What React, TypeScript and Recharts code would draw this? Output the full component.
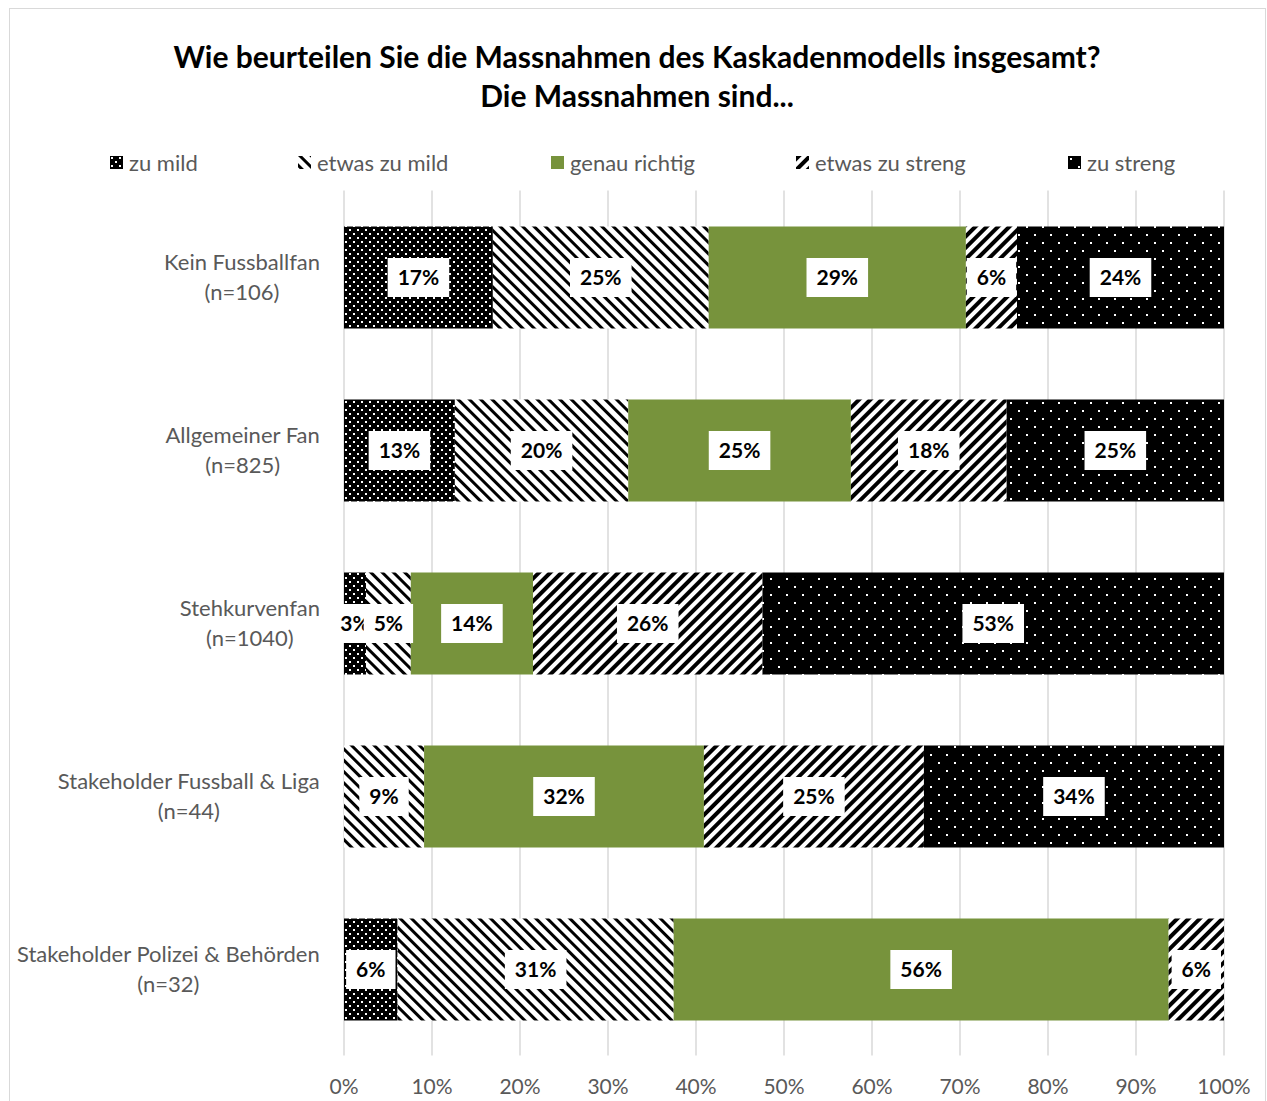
import React from 'react';
import { BarChart, Bar, XAxis, YAxis, CartesianGrid, LabelList } from 'recharts';

const groups = ['Kein Fussballfan', 'Allgemeiner Fan', 'Stehkurvenfan', 'Stakeholder Fussball & Liga', 'Stakeholder Polizei & Behörden'];
const sampleSizes = ['(n=106)', '(n=825)', '(n=1040)', '(n=44)', '(n=32)'];

const zuMild = [16.9, 12.6, 2.5, 0, 6.1];
const etwasZuMild = [24.5, 19.7, 5.1, 9.1, 31.4];
const genauRichtig = [29.2, 25.3, 13.9, 31.8, 56.3];
const etwasZuStreng = [5.8, 17.7, 26.1, 25.0, 6.3];
const zuStreng = [23.5, 24.7, 52.5, 34.1, 0];

const xTicks = [0, 0.1, 0.2, 0.3, 0.4, 0.5, 0.6, 0.7, 0.8, 0.9, 1];

const FONT = 'Lato, "Open Sans", sans-serif';
const GREY = '#595959';

const series = [
  { key: 'zuMild', name: 'zu mild', fill: 'url(#pZuMild)', legendX: 110 },
  { key: 'etwasZuMild', name: 'etwas zu mild', fill: 'url(#pEtwasZuMild)', legendX: 298 },
  { key: 'genauRichtig', name: 'genau richtig', fill: '#77933C', legendX: 551 },
  { key: 'etwasZuStreng', name: 'etwas zu streng', fill: 'url(#pEtwasZuStreng)', legendX: 796 },
  { key: 'zuStreng', name: 'zu streng', fill: 'url(#pZuStreng)', legendX: 1068 },
];

const data = groups.map((g, i) => ({
  name: g,
  n: sampleSizes[i],
  zuMild: zuMild[i],
  etwasZuMild: etwasZuMild[i],
  genauRichtig: genauRichtig[i],
  etwasZuStreng: etwasZuStreng[i],
  zuStreng: zuStreng[i],
}));

let measureCtx: CanvasRenderingContext2D | null = null;
const measure = (txt: string, font: string) => {
  if (!measureCtx) measureCtx = document.createElement('canvas').getContext('2d');
  if (!measureCtx) return txt.length * 10;
  measureCtx.font = font;
  return measureCtx.measureText(txt).width;
};

const CategoryTick = ({ x, y, payload }: any) => {
  const l1 = payload.value;
  const l2 = sampleSizes[groups.indexOf(l1)];
  const font = `22px ${FONT}`;
  const w = Math.max(measure(l1, font), measure(l2, font));
  const cx = x - 16 - w / 2;
  return (
    <g>
      <text x={cx} y={y - 15} dy="0.35em" textAnchor="middle" fill={GREY} fontSize={22} fontFamily={FONT}>{l1}</text>
      <text x={cx} y={y + 15} dy="0.35em" textAnchor="middle" fill={GREY} fontSize={22} fontFamily={FONT}>{l2}</text>
    </g>
  );
};

const BoxLabel = ({ x, y, width, height, value }: any) => {
  const v = Array.isArray(value) ? value[1] - value[0] : Number(value);
  if (!v || !width) return null;
  const txt = `${Math.round(v)}%`;
  const cx = x + width / 2;
  const cy = y + height / 2;
  const tw = measure(txt, `bold 21px ${FONT}`);
  const bw = tw + 20;
  return (
    <g>
      <rect x={cx - bw / 2} y={cy - 19.5} width={bw} height={39} fill="#fff" />
      <text x={cx} y={cy} dy="0.36em" textAnchor="middle" fontWeight="bold" fontSize={21} fontFamily={FONT} fill="#000">{txt}</text>
    </g>
  );
};

export default function App() {
  return (
    <div style={{ position: 'relative', width: 1267, height: 1101, fontFamily: FONT, background: '#fff', overflow: 'hidden' }}>
      <style>{`body{margin:0}`}</style>
      <div style={{ position: 'absolute', left: 9, top: 8, width: 1255, height: 1120, border: '1px solid #d9d9d9' }} />
      <div style={{ position: 'absolute', top: 37, left: 0, width: 1274, textAlign: 'center', fontSize: 30, fontWeight: 'bold', lineHeight: '39px', color: '#000' }}>
        Wie beurteilen Sie die Massnahmen des Kaskadenmodells insgesamt?<br />Die Massnahmen sind...
      </div>
      {series.map((s) => (
        <div key={s.key} style={{ position: 'absolute', left: s.legendX, top: 149, height: 26, display: 'flex', alignItems: 'center', fontSize: 22, color: GREY, whiteSpace: 'nowrap' }}>
          <svg width={13} height={13} style={{ marginRight: 6 }}>
            <rect x={0} y={0} width={13} height={13} fill={s.fill} />
          </svg>
          {s.name}
        </div>
      ))}
      <div style={{ position: 'absolute', left: 0, top: 0 }}>
        <BarChart
          width={1267}
          height={1101}
          data={data}
          layout="vertical"
          stackOffset="expand"
          barSize={102}
          margin={{ top: 190.5, right: 43, bottom: 5.5, left: 10 }}
        >
          <defs>
            <pattern id="pZuMild" patternUnits="userSpaceOnUse" width={8} height={8}>
              <rect width={8} height={8} fill="#000" />
              <rect x={1} y={1} width={2} height={2} fill="#fff" />
              <rect x={5} y={5} width={2} height={2} fill="#fff" />
            </pattern>
            <pattern id="pZuStreng" patternUnits="userSpaceOnUse" width={16} height={16}>
              <rect width={16} height={16} fill="#000" />
              <rect x={2} y={2} width={2} height={2} fill="#fff" />
              <rect x={10} y={10} width={2} height={2} fill="#fff" />
            </pattern>
            <pattern id="pEtwasZuMild" patternUnits="userSpaceOnUse" width={8} height={8} patternTransform="rotate(-45)">
              <rect width={8} height={8} fill="#fff" />
              <rect width={3} height={8} fill="#000" />
            </pattern>
            <pattern id="pEtwasZuStreng" patternUnits="userSpaceOnUse" width={8} height={8} patternTransform="rotate(45)">
              <rect width={8} height={8} fill="#fff" />
              <rect width={4} height={8} fill="#000" />
            </pattern>
          </defs>
          <CartesianGrid horizontal={false} stroke="#d9d9d9" strokeWidth={1.5} />
          <XAxis
            type="number"
            domain={[0, 1]}
            ticks={xTicks}
            height={40}
            axisLine={false}
            tickLine={false}
            tickMargin={18}
            tick={{ fill: GREY, fontSize: 21, fontFamily: FONT }}
            tickFormatter={(v: number) => `${Math.round(v * 100)}%`}
            interval={0}
          />
          <YAxis
            type="category"
            dataKey="name"
            width={334}
            axisLine={false}
            tickLine={false}
            tick={<CategoryTick />}
            interval={0}
          />
          {series.map((s) => (
            <Bar key={s.key} dataKey={s.key} name={s.name} stackId="a" fill={s.fill} isAnimationActive={false}>
              <LabelList dataKey={s.key} content={<BoxLabel />} />
            </Bar>
          ))}
        </BarChart>
      </div>
    </div>
  );
}
